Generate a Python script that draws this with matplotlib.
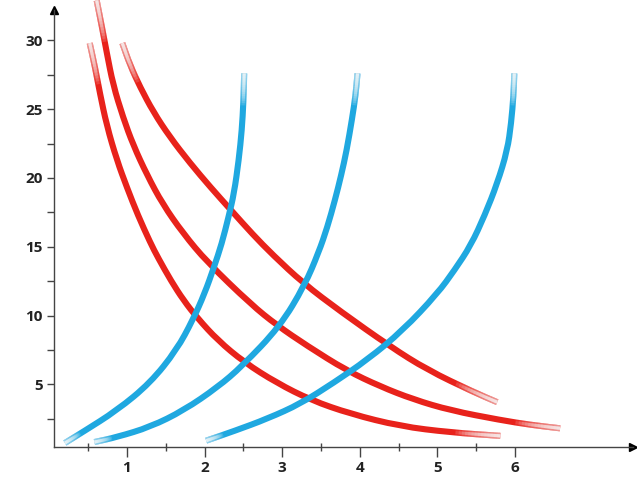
import numpy as np
import matplotlib
matplotlib.use('Agg')
import matplotlib.pyplot as plt
from matplotlib.path import Path
from matplotlib.patches import PathPatch

# blue curves (rising) from bottom to top
b1_x = [0.20, 0.43, 0.87, 1.30, 1.64, 1.85, 2.00, 2.12, 2.22, 2.31, 2.38, 2.44, 2.48, 2.50, 2.51]
b1_y = [0.73, 1.53, 3.10, 5.10, 7.50, 9.70, 11.6, 13.5, 15.2, 17.2, 18.9, 21.3, 23.5, 25.5, 27.6]
b2_x = [0.58, 0.87, 1.30, 1.73, 2.17, 2.48, 2.97, 3.29, 3.47, 3.58, 3.68, 3.76, 3.83, 3.90, 3.945, 3.97]
b2_y = [0.80, 1.16, 1.90, 3.10, 4.80, 6.30, 9.20, 12.2, 14.6, 16.4, 18.4, 20.2, 22.0, 24.3, 26.0, 27.6]
b3_x = [2.02, 2.38, 2.81, 3.24, 3.66, 4.10, 4.55, 5.00, 5.22, 5.43, 5.61, 5.77, 5.90, 5.95, 5.98, 5.99]
b3_y = [0.90, 1.60, 2.50, 3.60, 5.10, 6.80, 8.90, 11.6, 13.3, 15.1, 17.3, 19.6, 22.0, 24.0, 26.0, 27.6]

# red curves (falling), read from top to bottom
r1_x = [0.52, 0.59, 0.65, 0.74, 0.87, 1.00, 1.14, 1.30, 1.40, 1.57, 1.73, 1.91, 2.17, 2.51, 2.93, 3.37, 3.88, 4.52, 5.17, 5.81]
r1_y = [29.8, 28.0, 26.2, 23.8, 21.3, 19.3, 17.3, 15.3, 14.2, 12.5, 11.1, 9.80, 8.20, 6.60, 5.10, 3.85, 2.85, 1.95, 1.50, 1.25]
r2_x = [0.61, 0.68, 0.74, 0.82, 0.95, 1.08, 1.26, 1.46, 1.72, 2.03, 2.60, 2.93, 3.32, 3.83, 4.26, 4.69, 5.17, 5.81, 6.20, 6.58]
r2_y = [32.9, 30.9, 29.1, 26.8, 24.4, 22.4, 20.2, 18.1, 16.0, 13.9, 10.8, 9.30, 7.80, 6.00, 4.85, 3.90, 3.10, 2.40, 2.05, 1.80]
r3_x = [0.94, 1.04, 1.17, 1.34, 1.55, 1.81, 2.08, 2.35, 2.62, 2.88, 3.27, 3.75, 4.39, 4.87, 5.46, 5.77]
r3_y = [29.8, 28.2, 26.6, 24.8, 23.0, 21.1, 19.3, 17.6, 15.9, 14.4, 12.35, 10.3, 7.75, 6.05, 4.45, 3.70]

x_ticks = [1, 2, 3, 4, 5, 6]
y_ticks = [5, 10, 15, 20, 25, 30]

RED = '#e8221b'
BLUE = '#1fa8e0'


def smooth_path(xs, ys):
    # quadratic b-spline through the read points, drawn by matplotlib's path
    pts = np.column_stack([xs, ys])
    mids = (pts[:-1] + pts[1:]) / 2
    verts = [pts[0], mids[0]]
    codes = [Path.MOVETO, Path.LINETO]
    for i in range(1, len(pts) - 1):
        verts += [pts[i], mids[i]]
        codes += [Path.CURVE3, Path.CURVE3]
    verts.append(pts[-1])
    codes.append(Path.LINETO)
    return Path(verts, codes)


def head(pts, d):
    seg = np.hypot(*np.diff(pts, axis=0).T)
    cum = np.concatenate([[0], np.cumsum(seg)])
    i = np.searchsorted(cum, d)
    if i >= len(pts):
        return pts
    t = (d - cum[i - 1]) / seg[i - 1]
    end = pts[i - 1] + t * (pts[i] - pts[i - 1])
    return np.vstack([pts[:i], end])


def draw_tube(ax, xs, ys, color, width, fade_a, fade_b, z):
    path = smooth_path(xs, ys)
    ax.add_patch(PathPatch(path, fill=False, edgecolor=color, lw=width,
                           capstyle='butt', joinstyle='round', clip_on=False, zorder=z))
    # washed out ends: stacked white strokes, strongest at the tip
    poly = path.to_polygons(ax.transData, closed_only=False)[0]
    inv = ax.transData.inverted()
    n = 14
    for line, fade in [(poly, fade_a), (poly[::-1], fade_b)]:
        for k in range(1, n + 1):
            part = inv.transform(head(line, fade * k / n))
            ax.plot(part[:, 0], part[:, 1], color='white', alpha=0.055, lw=width,
                    solid_capstyle='butt', clip_on=False, zorder=z)
            ax.plot(part[:, 0], part[:, 1], color='white', alpha=0.10, lw=width * 0.5,
                    solid_capstyle='butt', clip_on=False, zorder=z)


fig = plt.figure(figsize=(6.37, 4.79), dpi=100)
ax = fig.add_axes([0.0848, 0.0668, 0.909, 0.912])
ax.set_xlim(0.06, 7.52)
ax.set_ylim(0.44, 32.2)
ax.set_autoscale_on(False)

for s in ['top', 'right']:
    ax.spines[s].set_visible(False)
for s in ['left', 'bottom']:
    ax.spines[s].set_color('#444444')
    ax.spines[s].set_linewidth(1.0)

ax.set_xticks(x_ticks)
ax.set_xticks(np.arange(0.5, 6.0, 1.0), minor=True)
ax.set_yticks(y_ticks)
ax.set_yticks(np.arange(2.5, 30.0, 5.0), minor=True)
ax.set_xticklabels([str(v) for v in x_ticks])
ax.set_yticklabels([str(v) for v in y_ticks])
ax.tick_params(axis='x', which='major', direction='out', length=7, width=1, color='#444444', pad=3)
ax.tick_params(axis='x', which='minor', direction='inout', length=6, width=1, color='#444444')
ax.tick_params(axis='y', which='major', direction='out', length=5, width=1, color='#444444', pad=3)
ax.tick_params(axis='y', which='minor', direction='out', length=5, width=1, color='#444444')
for lab in ax.get_xticklabels() + ax.get_yticklabels():
    lab.set_fontfamily('Open Sans')
    lab.set_fontweight('bold')
    lab.set_fontsize(11)
    lab.set_color('#222222')

# arrow heads at the ends of the axes
ax.plot([1], [0], marker='>', markersize=6, color='black', transform=ax.transAxes, clip_on=False)
ax.plot([0], [1], marker='^', markersize=6, color='black', transform=ax.transAxes, clip_on=False)

w = 4.4
for xs, ys in [(r1_x, r1_y), (r2_x, r2_y), (r3_x, r3_y)]:
    draw_tube(ax, xs, ys, RED, w, 42, 45, 3)
for xs, ys in [(b1_x, b1_y), (b2_x, b2_y), (b3_x, b3_y)]:
    draw_tube(ax, xs, ys, BLUE, w, 18, 32, 4)

fig.savefig('out.png', dpi=100)
